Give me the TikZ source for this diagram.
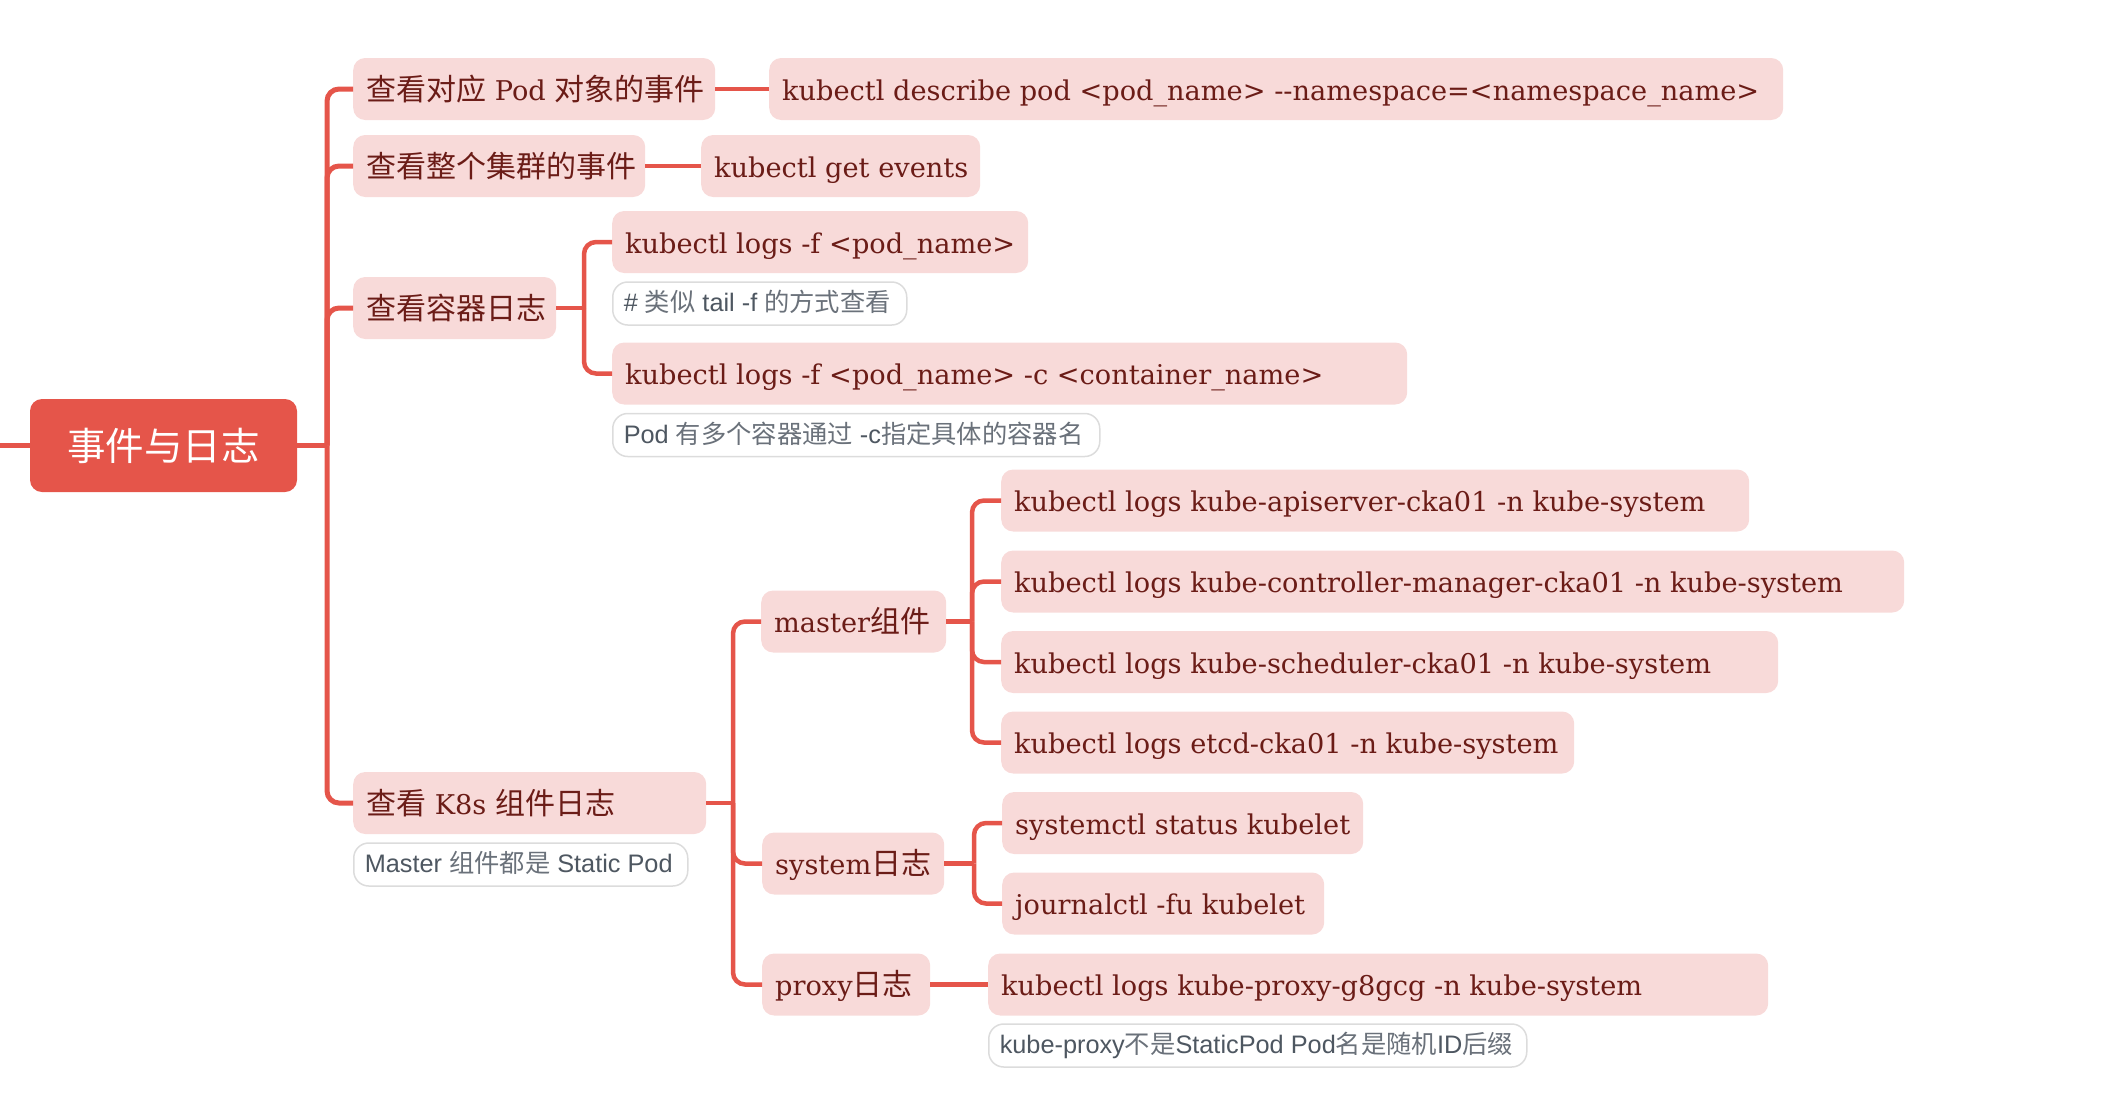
\documentclass[tikz,border=0pt]{standalone}
\usepackage{fontspec}
\setmainfont{DejaVu Serif}
\newfontfamily\cjk{Noto Sans CJK SC}
\newfontfamily\notefont{Liberation Sans}
\definecolor{mmred}{HTML}{E5554A}
\definecolor{mmpink}{HTML}{F8DAD9}
\definecolor{mmtext}{HTML}{6B1C17}
\definecolor{mmnote}{HTML}{4E5761}
\definecolor{mmnotezh}{HTML}{6A717A}
\definecolor{mmnoteborder}{HTML}{DCDCDC}
\newcommand\fitw[2]{\makebox[#1][l]{#2}}
\newcommand\zhs[1]{{\fontsize{30}{32}\selectfont\cjk #1}}
\newcommand\zhn[1]{{\cjk\color{mmnotezh}#1}}
\begin{document}
\begin{tikzpicture}[x=1pt,y=-1pt,
  rootbox/.style={fill=mmred, rounded corners=12pt, minimum width=267pt, minimum height=93pt,
    inner sep=0pt, text=white, font=\fontsize{38.5}{40}\selectfont\cjk, text height=29pt, text depth=0pt},
  topic/.style={fill=mmpink, rounded corners=12pt, inner xsep=13pt, inner ysep=0pt,
    minimum height=62pt, anchor=west, text=mmtext, font=\fontsize{27.2}{30}\selectfont,
    text height=22pt, text depth=0pt},
  note/.style={fill=white, draw=mmnoteborder, line width=1.5pt, rounded corners=15pt,
    inner xsep=11pt, inner ysep=0pt, minimum height=43pt, anchor=west, text=mmnote,
    font=\fontsize{25.3}{27}\selectfont\notefont, text height=16.5pt, text depth=0pt},
  conn/.style={draw=mmred, line width=4.5pt},
  trunk/.style={draw=mmred, line width=5pt},
  roundbend/.style={rounded corners=12pt}
]
\useasboundingbox (0,0) rectangle (2108,1106);

% root
\node[rootbox] (root) at (163.5,445.5) {事件与日志};
\coordinate (stub) at (0,445.5);
\draw[trunk] (stub) -- (root.west);

% level 1
\node[topic] (a1) at (353,89) {\fitw{336pt}{\zhs{查看对应} Pod \zhs{对象的事件}}};
\node[topic] (a2) at (353,166) {\fitw{266pt}{\zhs{查看整个集群的事件}}};
\node[topic] (a3) at (353,308) {\fitw{177pt}{\zhs{查看容器日志}}};
\node[topic] (a4) at (353,803) {\fitw{327pt}{\zhs{查看} K8s \zhs{组件日志}}};
\node[note] (n4) at (353,864.5) {\fitw{312pt}{Master \zhn{组件都是} Static Pod}};

\coordinate (j0) at (327,445.5);
\draw[trunk] (root.east) -- (j0);
\draw[trunk,roundbend] (j0) |- (a1.west);
\draw[trunk,roundbend] (j0) |- (a2.west);
\draw[trunk,roundbend] (j0) |- (a3.west);
\draw[trunk,roundbend] (j0) |- (a4.west);

% events
\node[topic] (a1c) at (769,89) {\fitw{988pt}{kubectl describe pod <pod\_name> -{}-namespace=<namespace\_name>}};
\node[topic] (a2c) at (701,166) {\fitw{253pt}{kubectl get events}};
\draw[conn] (a1.east) -- (a1c.west);
\draw[conn] (a2.east) -- (a2c.west);

% container logs
\node[topic] (a3c1) at (612,242) {\fitw{390pt}{kubectl logs -f <pod\_name>}};
\node[note] (n31) at (612,303.5) {\fitw{272pt}{\# \zhn{类似} tail -f \zhn{的方式查看}}};
\node[topic] (a3c2) at (612,373.5) {\fitw{769pt}{kubectl logs -f <pod\_name> -c <container\_name>}};
\node[note] (n32) at (612,435) {\fitw{465pt}{Pod \zhn{有多个容器通过} -c\zhn{指定具体的容器名}}};
\coordinate (j3) at (584,308);
\draw[conn] (a3.east) -- (j3);
\draw[conn,roundbend] (j3) |- (a3c1.west);
\draw[conn,roundbend] (j3) |- (a3c2.west);

% k8s components
\node[topic] (b1) at (761,621.5) {\fitw{159pt}{master\zhs{组件}}};
\node[topic] (b2) at (762,863.5) {\fitw{156pt}{system\zhs{日志}}};
\node[topic] (b3) at (762,984.5) {\fitw{142pt}{proxy\zhs{日志}}};
\coordinate (j4) at (733,803);
\draw[conn] (a4.east) -- (j4);
\draw[conn,roundbend] (j4) |- (b1.west);
\draw[conn,roundbend] (j4) |- (b2.west);
\draw[conn,roundbend] (j4) |- (b3.west);

\node[topic] (c11) at (1001,500.5) {\fitw{722pt}{kubectl logs kube-apiserver-cka01 -n kube-system}};
\node[topic] (c12) at (1001,581.5) {\fitw{877pt}{kubectl logs kube-controller-manager-cka01 -n kube-system}};
\node[topic] (c13) at (1001,662) {\fitw{751pt}{kubectl logs kube-scheduler-cka01 -n kube-system}};
\node[topic] (c14) at (1001,742.5) {\fitw{547pt}{kubectl logs etcd-cka01 -n kube-system}};
\coordinate (j5) at (972,621.5);
\draw[conn] (b1.east) -- (j5);
\draw[conn,roundbend] (j5) |- (c11.west);
\draw[conn,roundbend] (j5) |- (c12.west);
\draw[conn,roundbend] (j5) |- (c13.west);
\draw[conn,roundbend] (j5) |- (c14.west);

\node[topic] (c21) at (1002,823) {\fitw{335pt}{systemctl status kubelet}};
\node[topic] (c22) at (1002,903.5) {\fitw{296pt}{journalctl -fu kubelet}};
\coordinate (j6) at (974,863.5);
\draw[conn] (b2.east) -- (j6);
\draw[conn,roundbend] (j6) |- (c21.west);
\draw[conn,roundbend] (j6) |- (c22.west);

\node[topic] (c31) at (988,984.5) {\fitw{754pt}{kubectl logs kube-proxy-g8gcg -n kube-system}};
\node[note] (n3) at (988,1045.5) {\fitw{516pt}{kube-proxy\zhn{不是}StaticPod Pod\zhn{名是随机}ID\zhn{后缀}}};
\draw[conn] (b3.east) -- (c31.west);
\end{tikzpicture}
\end{document}
